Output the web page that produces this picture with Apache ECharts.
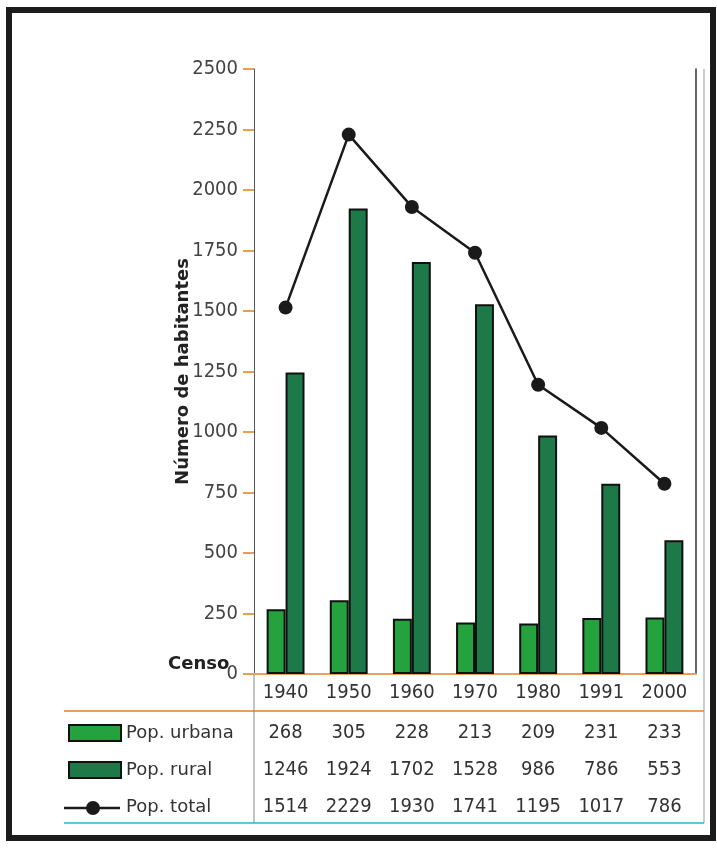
<!DOCTYPE html>
<html><head><meta charset="utf-8">
<script src="https://cdn.jsdelivr.net/npm/echarts@6/dist/echarts.min.js"></script>
<style>html,body{margin:0;padding:0;background:#fff}#c{width:717px;height:850px}</style>
</head><body><div id="c"></div>
<script>
const years = ['1940','1950','1960','1970','1980','1991','2000'];
const popUrbana = [268, 305, 228, 213, 209, 231, 233];
const popRural = [1246, 1924, 1702, 1528, 986, 786, 553];
const popTotal = [1514, 2229, 1930, 1741, 1195, 1017, 786];
const yTicks = [0, 250, 500, 750, 1000, 1250, 1500, 1750, 2000, 2250, 2500];

const numFont = "'Liberation Sans Narrow','DejaVu Sans Condensed',sans-serif";
const chart = echarts.init(document.getElementById('c'));

function tableAxis(offset, arr) {
  return {
    type: 'category', data: years, position: 'bottom', offset: offset,
    axisLine: {show: false}, axisTick: {show: false}, splitLine: {show: false},
    axisLabel: {margin: 8, fontFamily: numFont, fontSize: 20, color: '#333',
      formatter: (v, i) => String(arr[i])}
  };
}

chart.setOption({
  animation: false,
  backgroundColor: '#fff',
  grid: {left: 254, right: 21, top: 69, bottom: 176, containLabel: false},
  legend: {
    orient: 'vertical', left: 63, top: 719, itemWidth: 52, itemHeight: 16, itemGap: 19,
    icon: 'rect',
    textStyle: {fontFamily: "'DejaVu Sans',sans-serif", fontSize: 18, color: '#333'},
    data: [{name: 'Pop. urbana', icon: 'rect'}, {name: 'Pop. rural', icon: 'rect'}, {name: 'Pop. total', icon: 'none'}]
  },
  xAxis: [
    {type: 'category', data: years, position: 'bottom',
      axisLine: {show: true, lineStyle: {color: '#5cc8d8', width: 2}},
      axisTick: {show: false},
      axisLabel: {margin: 9, fontFamily: numFont, fontSize: 20, color: '#333'}},
    {type: 'category', data: years, position: 'top',
      axisLine: {show: true, lineStyle: {color: '#e8a060', width: 2}},
      axisTick: {show: false}, axisLabel: {show: false}},
    tableAxis(41, popUrbana),
    tableAxis(78, popRural),
    tableAxis(115, popTotal)
  ],
  yAxis: [
    {type: 'value', min: yTicks[0], max: yTicks[yTicks.length - 1], interval: 250,
      name: 'Número de habitantes', nameLocation: 'middle', nameGap: 62, nameMoveOverlap: false,
      nameTextStyle: {fontFamily: "'DejaVu Sans',sans-serif", fontWeight: 'bold', fontSize: 18, color: '#222'},
      axisLine: {show: true, lineStyle: {color: '#555', width: 1}},
      axisTick: {show: true, length: 11, lineStyle: {color: '#e8a050', width: 2}},
      splitLine: {show: false},
      axisLabel: {margin: 16, fontFamily: numFont, fontSize: 20, color: '#444',
        formatter: v => String(v)}},
    {type: 'value', min: yTicks[0], max: yTicks[yTicks.length - 1], position: 'right',
      axisLine: {show: true, lineStyle: {color: '#333', width: 1.5}},
      axisTick: {show: false}, axisLabel: {show: false}, splitLine: {show: false}}
  ],
  series: [
    {name: 'Pop. urbana', type: 'bar', data: popUrbana, barGap: '0%', barCategoryGap: '40%',
      itemStyle: {color: '#23a23e', borderColor: '#111', borderWidth: 2}},
    {name: 'Pop. rural', type: 'bar', data: popRural, barGap: '0%', barCategoryGap: '40%',
      itemStyle: {color: '#1d7a48', borderColor: '#111', borderWidth: 2}},
    {name: 'Pop. total', type: 'line', data: popTotal, symbol: 'circle', symbolSize: 14,
      lineStyle: {color: '#1a1a1a', width: 2.5}, itemStyle: {color: '#1a1a1a'}, z: 5}
  ],
  graphic: [
    {type: 'rect', shape: {x: 9, y: 10, width: 704, height: 828},
      style: {fill: 'none', stroke: '#1c1c1c', lineWidth: 6}, silent: true},
    {type: 'text', left: 168, top: 655,
      style: {text: 'Censo', fontFamily: "'DejaVu Sans',sans-serif", fontWeight: 'bold', fontSize: 18, fill: '#222'}},
    {type: 'line', shape: {x1: 64, y1: 711, x2: 704, y2: 711}, style: {stroke: '#e8a060', lineWidth: 2}},
    {type: 'line', shape: {x1: 64, y1: 823, x2: 704, y2: 823}, style: {stroke: '#5cc8d8', lineWidth: 2}},
    {type: 'line', shape: {x1: 254, y1: 674, x2: 254, y2: 823}, style: {stroke: '#888', lineWidth: 1}},
    {type: 'line', shape: {x1: 704, y1: 69, x2: 704, y2: 823}, style: {stroke: '#999', lineWidth: 1}},
    {type: 'line', shape: {x1: 64, y1: 808, x2: 120, y2: 808}, style: {stroke: '#1a1a1a', lineWidth: 2.5}},
    {type: 'circle', shape: {cx: 93, cy: 808, r: 7}, style: {fill: '#1a1a1a'}}
  ]
});
</script></body></html>
